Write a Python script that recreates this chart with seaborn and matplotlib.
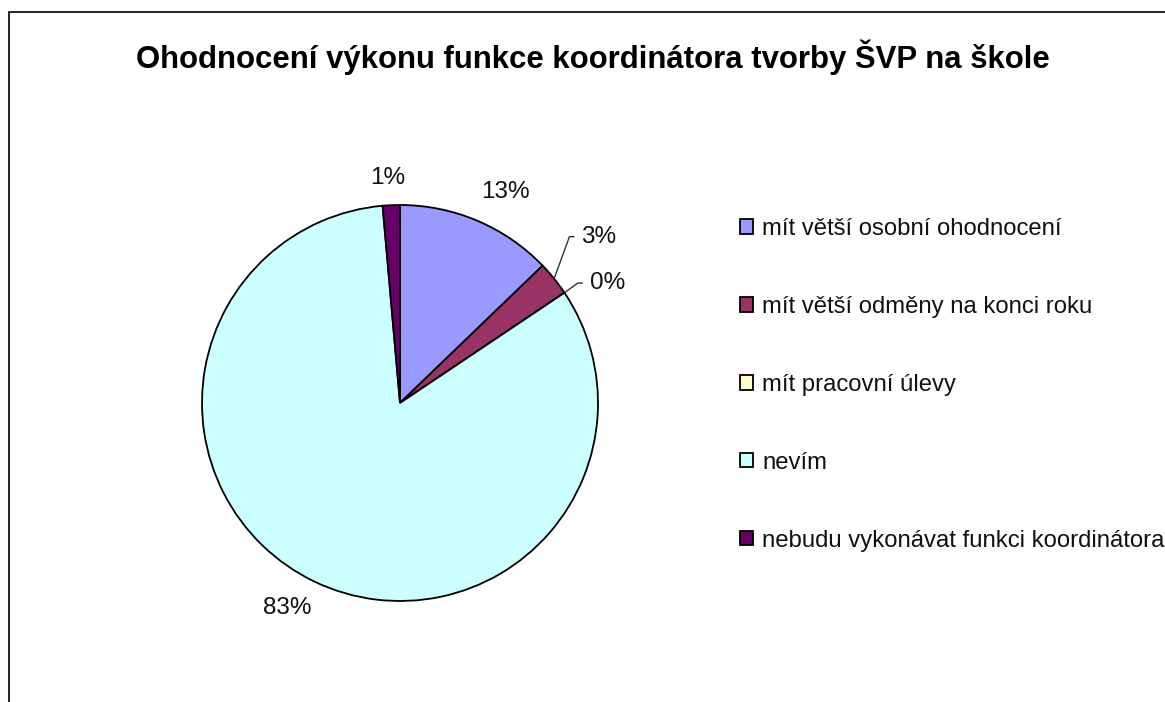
import numpy as np
import matplotlib
matplotlib.use("Agg")
import matplotlib.pyplot as plt
import seaborn as sns
from matplotlib.patches import Rectangle

# data
categories = [
    "mít větší osobní ohodnocení",
    "mít větší odměny na konci roku",
    "mít pracovní úlevy",
    "nevím",
    "nebudu vykonávat funkci koordinátora",
]
shares = [12.8, 2.8, 0.0, 83.0, 1.4]
colors = ["#9999FF", "#993366", "#FFFFCC", "#CCFFFF", "#660066"]
title = "Ohodnocení výkonu funkce koordinátora tvorby ŠVP na škole"

# label placement (radius in pie radii, angle shift in degrees)
label_r = [1.19, 1.31, 1.21, 1.18, 1.14]
label_dtheta = [3.5, -1.0, 3.8, 3.2, -0.6]
leader = [False, True, True, False, False]
leader_angle = [0, 70, 36, 0, 0]

sns.set_theme(style="white")
plt.rcParams["font.family"] = ["Liberation Sans", "DejaVu Sans"]

W, H = 1165, 702
fig = plt.figure(figsize=(W / 100, H / 100), dpi=100)
fig.patch.set_facecolor("white")

# pie: centre (400, 403) px, radius 198 px
cx, cy, R = 400, 403, 198
ax = fig.add_axes([(cx - R) / W, (H - cy - R) / H, 2 * R / W, 2 * R / H])
wedges, _ = ax.pie(shares, colors=colors, startangle=90, counterclock=False,
                   wedgeprops=dict(edgecolor="black", linewidth=1.3))
ax.set_xlim(-1, 1)
ax.set_ylim(-1, 1)
ax.set_aspect("equal")
ax.axis("off")

cum = np.cumsum([0] + shares[:-1])
for i, v in enumerate(shares):
    mid = (cum[i] + v / 2) / 100 * 360
    th = np.radians(mid + label_dtheta[i])
    tx, ty = label_r[i] * np.sin(th), label_r[i] * np.cos(th)
    txt = f"{round(v)}%"
    if leader[i]:
        m = np.radians(mid)
        ax.annotate(txt, xy=(np.sin(m), np.cos(m)), xytext=(tx, ty),
                    ha="center", va="center", fontsize=17.5, color="#111111",
                    annotation_clip=False,
                    arrowprops=dict(arrowstyle="-", color="#333333", lw=1,
                                    shrinkA=3, shrinkB=0,
                                    connectionstyle=f"angle,angleA=0,angleB={leader_angle[i]},rad=0"))
    else:
        ax.text(tx, ty, txt, ha="center", va="center", fontsize=17.5,
                color="#111111", clip_on=False)

fig.text(593 / W, 1 - 57 / H, title, ha="center", va="center",
         fontsize=22.4, fontweight="bold", color="black")

leg = fig.legend(wedges, categories, loc="upper left",
                 bbox_to_anchor=(740 / W, 1 - 218 / H),
                 frameon=False, fontsize=17.2, handlelength=0.55, handleheight=0.55,
                 handletextpad=0.38, labelspacing=2.34, borderpad=0, borderaxespad=0)
for t in leg.get_texts():
    t.set_color("#111111")

# outer chart border (cut off at right and bottom)
fig.add_artist(Rectangle((9 / W, -0.1), 1.2, (H - 12) / H + 0.1,
                         transform=fig.transFigure, fill=False,
                         edgecolor="black", linewidth=1.2))

fig.savefig("out.png", dpi=100)
